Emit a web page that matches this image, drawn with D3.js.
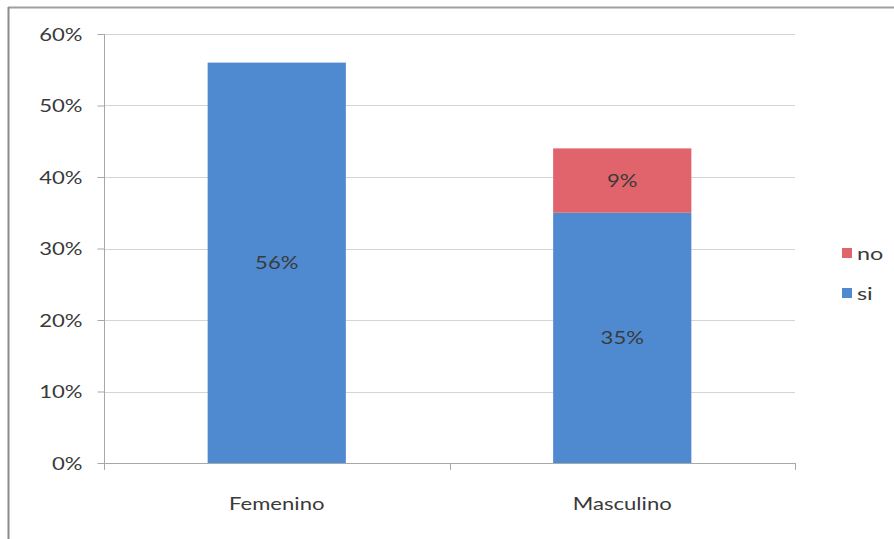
<!DOCTYPE html>
<html>
<head>
<meta charset="utf-8">
<script src="https://cdn.jsdelivr.net/npm/d3@7/dist/d3.min.js"></script>
<style>
  body { margin: 0; background: #fff; }
  text { font-family: Lato, "Open Sans", sans-serif; fill: #3a3a3a; }
</style>
</head>
<body>
<svg id="chart" width="894" height="539"></svg>
<script>
// Data
const categories = ["Femenino", "Masculino"];
const seriesKeys = ["si", "no"];
const siValues = [56, 35];
const noValues = [0, 9];
const yTickValues = [0, 10, 20, 30, 40, 50, 60];
const legendOrder = ["no", "si"];

const colors = { si: "#4f89cf", no: "#e1636b" };
const textStretch = 1.3; // horizontal stretch applied to all labels

const svg = d3.select("#chart");
const plot = { left: 104, right: 795, top: 34, bottom: 463 };

const rows = categories.map((c, i) => ({ category: c, si: siValues[i], no: noValues[i] }));
const stacked = d3.stack().keys(seriesKeys)(rows);

const x = d3.scaleBand()
  .domain(categories)
  .range([plot.left, plot.right])
  .paddingInner(0.6)
  .paddingOuter(0.3);

const y = d3.scaleLinear()
  .domain([0, d3.max(yTickValues)])
  .range([plot.bottom, plot.top]);

// Stretch a text element horizontally around its anchor point
function stretch(sel) {
  sel.each(function () {
    const t = d3.select(this);
    const tx = +t.attr("x") || 0;
    const ty = +t.attr("y") || 0;
    t.attr("x", 0).attr("y", 0)
     .attr("transform", `translate(${tx},${ty}) scale(${textStretch},1)`);
  });
}

// Outer frame (top and left edges)
svg.append("line").attr("x1", 8).attr("x2", 894).attr("y1", 7.5).attr("y2", 7.5)
  .attr("stroke", "#a0a0a0").attr("stroke-width", 2);
svg.append("line").attr("x1", 8.5).attr("x2", 8.5).attr("y1", 7).attr("y2", 539)
  .attr("stroke", "#8c8c8c").attr("stroke-width", 2);

// Horizontal gridlines
svg.append("g")
  .selectAll("line")
  .data(yTickValues.filter(d => d > 0))
  .join("line")
  .attr("x1", plot.left).attr("x2", plot.right)
  .attr("y1", d => Math.round(y(d)) + 0.5).attr("y2", d => Math.round(y(d)) + 0.5)
  .attr("stroke", "#d4d4d4").attr("stroke-width", 1);

// Bars
svg.append("g")
  .selectAll("g")
  .data(stacked)
  .join("g")
  .attr("fill", d => colors[d.key])
  .selectAll("rect")
  .data(d => d.filter(s => s[1] - s[0] > 0))
  .join("rect")
  .attr("x", d => x(d.data.category))
  .attr("width", x.bandwidth())
  .attr("y", d => y(d[1]))
  .attr("height", d => y(d[0]) - y(d[1]));

// Value labels inside the bars
svg.append("g")
  .selectAll("g")
  .data(stacked)
  .join("g")
  .selectAll("text")
  .data(d => d.filter(s => s[1] - s[0] > 0))
  .join("text")
  .attr("x", d => x(d.data.category) + x.bandwidth() / 2)
  .attr("y", d => (y(d[0]) + y(d[1])) / 2 + 6)
  .attr("text-anchor", "middle")
  .style("font-size", "17px")
  .text(d => (d[1] - d[0]) + "%")
  .call(stretch);

// Y axis
const yAxis = svg.append("g")
  .attr("transform", `translate(${plot.left + 0.5},0)`)
  .call(d3.axisLeft(y).tickValues(yTickValues).tickFormat(d => d + "%").tickSize(7).tickPadding(15));
yAxis.select(".domain").attr("stroke", "#a8a8a8").attr("d", `M0,${plot.top}V${plot.bottom}`);
yAxis.selectAll(".tick line").attr("stroke", "#a8a8a8");
yAxis.selectAll(".tick text")
  .attr("dy", null).attr("y", 6)
  .style("font-size", "17px").style("font-family", "Lato, 'Open Sans', sans-serif")
  .attr("fill", "#3a3a3a")
  .call(stretch);

// X axis with category labels
const xAxis = svg.append("g")
  .attr("transform", `translate(0,${plot.bottom + 0.5})`)
  .call(d3.axisBottom(x).tickSize(0).tickPadding(40));
xAxis.select(".domain").attr("stroke", "#a8a8a8").attr("d", `M${plot.left},0H${plot.right}`);
xAxis.selectAll(".tick text")
  .attr("dy", null).attr("y", 46)
  .style("font-size", "17px").style("font-family", "Lato, 'Open Sans', sans-serif")
  .attr("fill", "#3a3a3a")
  .call(stretch);

// Category boundary ticks
const boundaries = d3.range(categories.length + 1).map(i => plot.left + i * (plot.right - plot.left) / categories.length);
svg.append("g")
  .selectAll("line")
  .data(boundaries)
  .join("line")
  .attr("x1", d => Math.round(d) + 0.5).attr("x2", d => Math.round(d) + 0.5)
  .attr("y1", plot.bottom).attr("y2", plot.bottom + 7)
  .attr("stroke", "#a8a8a8");

// Legend
const legend = svg.append("g")
  .selectAll("g")
  .data(legendOrder)
  .join("g")
  .attr("transform", (d, i) => `translate(842,${248 + i * 40})`);
legend.append("rect").attr("width", 10).attr("height", 10).attr("fill", d => colors[d]);
legend.append("text")
  .attr("x", 15).attr("y", 12)
  .style("font-size", "18px")
  .text(d => d)
  .call(stretch);
</script>
</body>
</html>
